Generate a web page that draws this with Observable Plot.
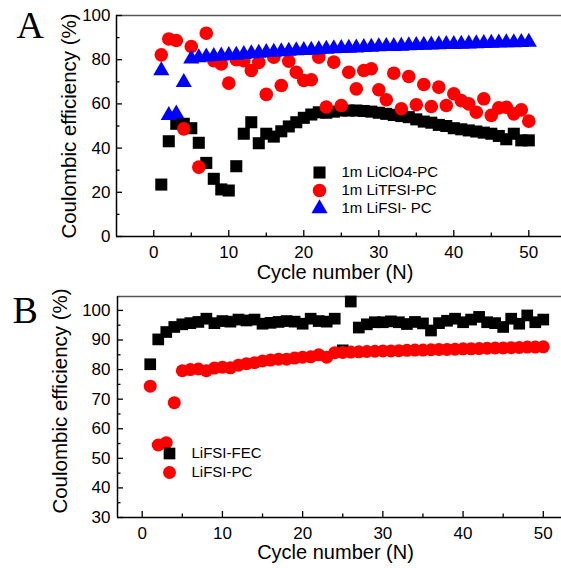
<!DOCTYPE html>
<html>
<head>
<meta charset="utf-8">
<script src="https://cdn.jsdelivr.net/npm/d3@7"></script>
<script src="https://cdn.jsdelivr.net/npm/@observablehq/plot@0.6"></script>
<style>
  body { margin: 0; background: #fff; }
  #fig { width: 561px; height: 568px; position: relative; }
  #fig svg { display: block; overflow: visible; }
</style>
</head>
<body>
<div id="fig"></div>
<script>
// Cycle numbers shared by every series
const cycles = [1,2,3,4,5,6,7,8,9,10,11,12,13,14,15,16,17,18,19,20,21,22,23,24,25,
  26,27,28,29,30,31,32,33,34,35,36,37,38,39,40,41,42,43,44,45,46,47,48,49,50];

// Panel A: coulombic efficiency (%) of the PC-based electrolytes
const liClO4PC = [23.5,43.1,51.0,51.0,49.0,42.4,33.3,26.1,21.3,20.8,31.8,46.5,51.7,42.2,46.5,45.2,47.6,49.8,51.7,53.7,
  55.2,56.2,56.0,56.5,57.0,57.0,57.0,56.8,56.5,56.0,55.5,55.0,54.5,54.0,53.0,52.0,51.5,50.5,50.0,49.0,
  48.5,48.0,47.5,47.0,46.5,45.5,44.0,46.5,43.5,43.5];
const liTFSIPC = [82.2,89.4,88.7,48.7,86.0,31.4,92.0,79.6,78.1,69.4,80.0,79.6,75.1,78.8,64.3,81.1,68.3,79.3,74.3,70.6,
  70.9,81.1,58.6,78.9,59.3,74.3,66.8,75.1,75.9,66.4,61.9,73.9,57.8,72.4,59.6,68.8,58.8,67.6,59.3,64.6,
  61.5,60.0,56.2,62.3,54.8,58.2,58.5,55.5,57.3,52.2];
const liFSIPCA = [75.1,54.8,55.5,69.8,80.4,81.0,81.3,81.5,81.8,82.0,82.1,82.4,82.8,83.0,83.3,83.5,83.7,83.9,84.1,84.2,
  84.4,84.6,84.8,85.0,85.1,85.3,85.4,85.6,85.7,85.9,86.0,86.1,86.2,86.4,86.5,86.6,86.7,86.8,86.9,87.0,
  87.1,87.2,87.3,87.4,87.5,87.6,87.7,87.8,87.9,88.0];

// Panel B: LiFSI with FEC versus PC
const liFSIFEC = [81.8,90.2,92.7,94.4,95.3,95.7,96.1,97.2,95.7,96.4,96.2,96.9,96.6,96.9,95.5,95.8,96.1,96.4,96.2,95.5,
  97.2,96.4,96.2,97.2,86.5,103.0,94.2,95.3,96.0,96.0,96.3,96.0,95.4,96.1,95.6,93.2,95.7,96.5,97.2,96.0,
  96.9,97.8,96.0,95.7,94.4,97.2,95.5,98.3,96.0,96.9];
const liFSIPCB = [74.4,54.5,55.3,68.8,79.6,80.0,80.2,79.6,80.5,80.8,80.6,81.5,82.0,82.3,82.9,83.2,83.5,83.5,83.9,84.2,
  84.3,85.0,84.2,85.7,85.8,85.9,86.0,86.1,86.2,86.3,86.3,86.4,86.5,86.6,86.6,86.7,86.8,86.8,86.9,87.0,
  87.0,87.1,87.2,87.3,87.3,87.4,87.5,87.6,87.6,87.7];

// Series names, tick values and text
const namesA = ["1m LiClO4-PC", "1m LiTFSI-PC", "1m LiFSI- PC"];
const namesB = ["LiFSI-FEC", "LiFSI-PC"];
const xTicks = [0, 10, 20, 30, 40, 50];
const xMinor = [5, 15, 25, 35, 45];
const yTicksA = [0, 20, 40, 60, 80, 100];
const yMinorA = [10, 30, 50, 70, 90];
const yTicksB = [30, 40, 50, 60, 70, 80, 90, 100];
const yMinorB = [35, 45, 55, 65, 75, 85, 95];
const xTitle = "Cycle number (N)";
const yTitle = "Coulombic efficiency (%)";
const panelLetters = ["A", "B"];

const SANS = "Liberation Sans, Arial, sans-serif";
const SERIF = "Liberation Serif, Times New Roman, serif";

function rows(values) {
  return cycles.map((c, i) => ({cycle: c, value: values[i]}));
}

function panel(cfg) {
  const innerW = cfg.width - cfg.marginLeft - cfg.marginRight;
  const innerH = cfg.height - cfg.marginTop - cfg.marginBottom;
  const marks = [
    // frame: top, left, bottom (the right side runs off the edge)
    Plot.ruleY([cfg.yDomain[1]], {stroke: "#555", strokeWidth: 1.5}),
    Plot.ruleX([cfg.xDomain[0]], {stroke: "#000", strokeWidth: 1.5}),
    Plot.ruleY([cfg.yDomain[0]], {stroke: "#000", strokeWidth: 1.5}),
    // inward ticks
    Plot.tickX(xTicks, {x: d => d, insetTop: innerH - 6, stroke: "#000", strokeWidth: 1.3}),
    Plot.tickX(xMinor, {x: d => d, insetTop: innerH - 3.5, stroke: "#000", strokeWidth: 1.3}),
    Plot.tickY(cfg.yTicks, {y: d => d, insetRight: innerW - 6, stroke: "#000", strokeWidth: 1.3}),
    Plot.tickY(cfg.yMinor, {y: d => d, insetRight: innerW - 3.5, stroke: "#000", strokeWidth: 1.3}),
    Plot.axisX(xTicks, {tickSize: 0, tickPadding: 9, fontSize: 17, label: null, fontFamily: SANS}),
    Plot.axisY(cfg.yTicks, {tickSize: 0, tickPadding: cfg.yPad, fontSize: 17, label: null, fontFamily: SANS}),
    // axis titles
    Plot.text([xTitle], {frameAnchor: "bottom", dx: -4, dy: cfg.xTitleDy, lineAnchor: "middle", textAnchor: "middle",
      fontSize: 20, fontFamily: SANS, fill: "#000"}),
    Plot.text([yTitle], {frameAnchor: "left", dx: cfg.yTitleDx, dy: cfg.yTitleDy, rotate: -90,
      lineAnchor: "middle", textAnchor: "middle", fontSize: 20.5, fontFamily: SANS, fill: "#000"}),
    // panel letter
    Plot.text([cfg.letter], {frameAnchor: "top-left", dx: cfg.letterDx, dy: cfg.letterDy, textAnchor: "start",
      lineAnchor: "middle", fontSize: 38, fontFamily: SERIF, fill: "#000"})
  ];
  // data series, drawn in order so later ones sit on top
  for (const s of cfg.series) {
    marks.push(Plot.dot(rows(s.values), {x: "cycle", y: "value", symbol: s.symbol, r: s.r, fill: s.color, stroke: "none"}));
  }
  // legend
  cfg.series.forEach((s, i) => {
    marks.push(Plot.dot([s.name], {frameAnchor: "top-left", dx: cfg.legendX, dy: cfg.legendY + i * cfg.legendStep,
      symbol: s.symbol, r: s.r, fill: s.color, stroke: "none"}));
    marks.push(Plot.text([s.name], {frameAnchor: "top-left", dx: cfg.legendTextX, dy: cfg.legendY + i * cfg.legendStep,
      textAnchor: "start", lineAnchor: "middle", fontSize: 15, fontFamily: SANS, fill: "#000"}));
  });
  return Plot.plot({
    width: cfg.width, height: cfg.height,
    marginLeft: cfg.marginLeft, marginRight: cfg.marginRight,
    marginTop: cfg.marginTop, marginBottom: cfg.marginBottom,
    style: {fontFamily: SANS, color: "#000", background: "#fff", overflow: "visible"},
    x: {domain: cfg.xDomain},
    y: {domain: cfg.yDomain},
    marks
  });
}

const panelA = panel({
  width: 561, height: 283, marginLeft: 116, marginRight: 0, marginTop: 15, marginBottom: 47,
  xDomain: [-4.97, 54.36], yDomain: [0, 100],
  yTicks: yTicksA, yMinor: yMinorA, yPad: 6,
  xTitleDy: 36.5, yTitleDx: -47, yTitleDy: 0,
  letter: panelLetters[0], letterDx: -100, letterDy: 10,
  legendX: 203, legendTextX: 225, legendY: 157, legendStep: 18,
  series: [
    {name: namesA[0], values: liClO4PC, symbol: "square", r: 6.8, color: "#000"},
    {name: namesA[1], values: liTFSIPC, symbol: "circle", r: 6.8, color: "#ff0000"},
    {name: namesA[2], values: liFSIPCA, symbol: "triangle", r: 6.0, color: "#0000ff"}
  ]
});

const panelB = panel({
  width: 561, height: 285, marginLeft: 117, marginRight: 0, marginTop: 13, marginBottom: 51,
  xDomain: [-3.08, 52.27], yDomain: [30, 104.7],
  yTicks: yTicksB, yMinor: yMinorB, yPad: 7,
  xTitleDy: 35.5, yTitleDx: -57, yTitleDy: -6,
  letter: panelLetters[1], letterDx: -105, letterDy: 14.5,
  legendX: 52, legendTextX: 74, legendY: 157, legendStep: 19,
  series: [
    {name: namesB[0], values: liFSIFEC, symbol: "square", r: 6.6, color: "#000"},
    {name: namesB[1], values: liFSIPCB, symbol: "circle", r: 6.5, color: "#ff0000"}
  ]
});

document.getElementById("fig").append(panelA, panelB);
</script>
</body>
</html>
